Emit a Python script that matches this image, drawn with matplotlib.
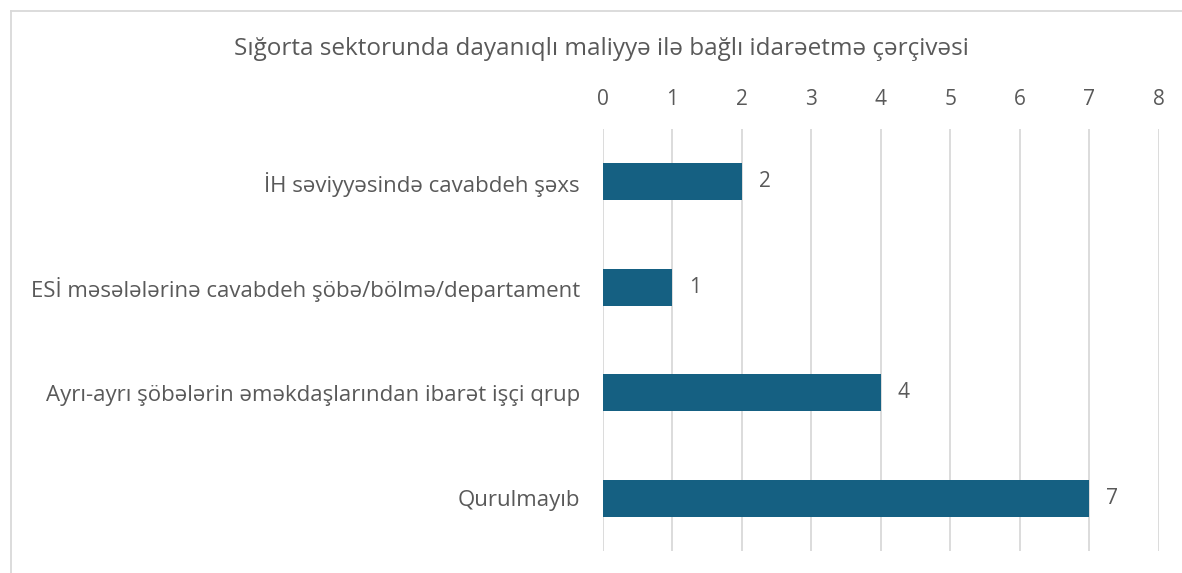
import matplotlib.pyplot as plt
from matplotlib.lines import Line2D

plt.rcParams['font.family'] = ['Open Sans', 'DejaVu Sans']

# kateqoriyalar (yuxarıdan aşağıya)
categories = [
    "İH səviyyəsində cavabdeh şəxs",
    "ESİ məsələlərinə cavabdeh şöbə/bölmə/departament",
    "Ayrı-ayrı şöbələrin əməkdaşlarından ibarət işçi qrup",
    "Qurulmayıb",
]
values = [2, 1, 4, 7]
x_ticks = [0, 1, 2, 3, 4, 5, 6, 7, 8]
title = "Sığorta sektorunda dayanıqlı maliyyə ilə bağlı idarəetmə çərçivəsi"

bar_color = "#156082"
text_color = "#595959"
grid_color = "#D9D9D9"

fig = plt.figure(figsize=(11.82, 5.73), dpi=100)
ax = fig.add_axes([0.5101, 0.0384, 0.4704, 0.7365])

ypos = list(range(len(categories)))
ax.barh(ypos, values, height=0.35, color=bar_color, zorder=3)
ax.set_ylim(len(categories) - 0.5, -0.5)
ax.set_xlim(0, 8)
ax.set_xticks(x_ticks)
ax.xaxis.tick_top()
ax.set_yticks(ypos)
ax.set_yticklabels(categories)

ax.grid(axis='x', color=grid_color, linewidth=1.3, zorder=0)
for s in ax.spines.values():
    s.set_visible(False)
ax.tick_params(axis='x', length=0, pad=14, labelsize=15, labelcolor=text_color)
ax.tick_params(axis='y', length=0, pad=16.5, labelsize=16, labelcolor=text_color)

for y, v in zip(ypos, values):
    ax.annotate(str(v), (v, y), xytext=(12, 0), textcoords='offset points',
                va='center', ha='left', fontsize=15, color=text_color)

fig.text(0.509, 0.915, title, ha='center', va='center', fontsize=17.5, color=text_color)

# kənar xətləri (yuxarı və sol)
fig.add_artist(Line2D([11 / 1182, 1.0], [1 - 11 / 573] * 2, color=grid_color, linewidth=1.3))
fig.add_artist(Line2D([11 / 1182] * 2, [0.0, 1 - 11 / 573], color=grid_color, linewidth=1.3))

fig.savefig("out.png", dpi=100)
